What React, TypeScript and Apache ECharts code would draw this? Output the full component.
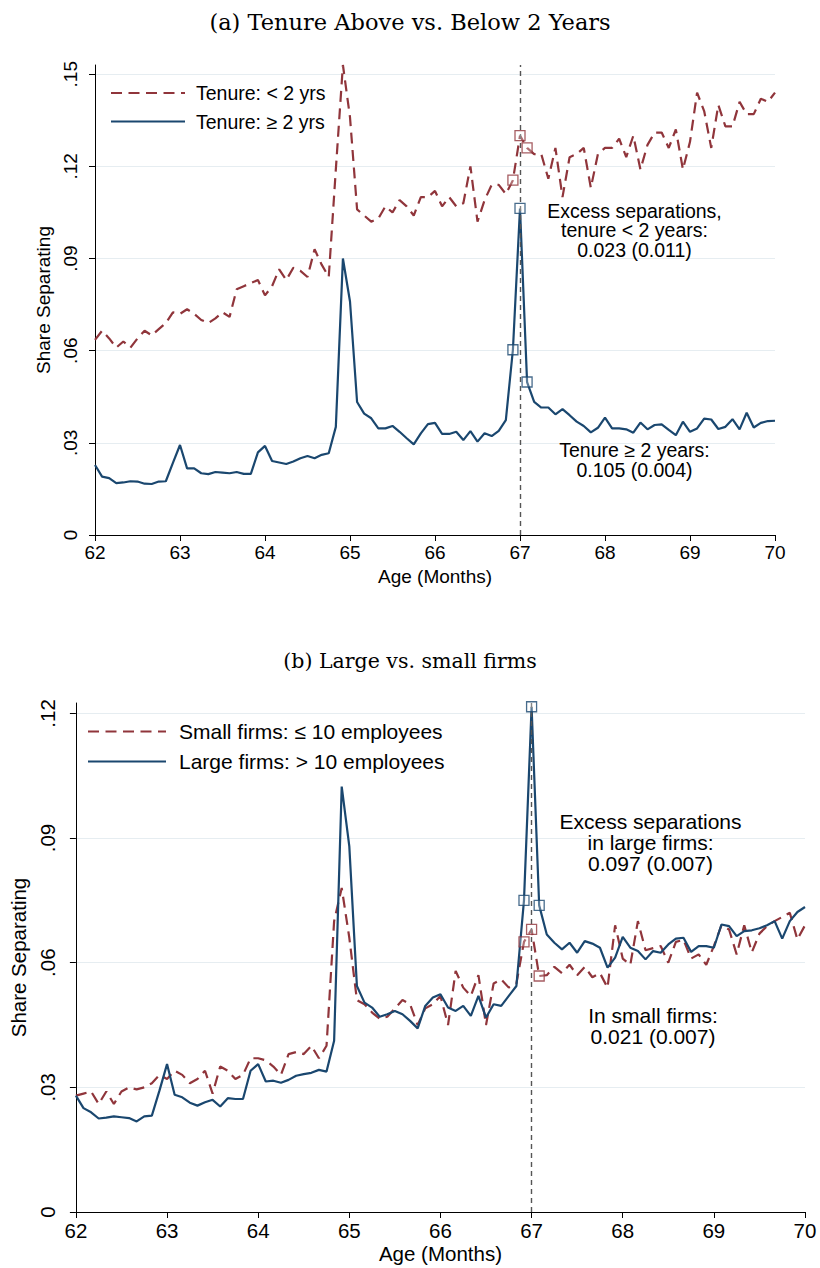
import React, { useEffect, useRef } from 'react';
import * as echarts from 'echarts';

// Age grid: 62 to 70 in monthly steps (97 points)
const monthIndex: number[] = Array.from({ length: 97 }, (_, i) => i);
const ages: number[] = monthIndex.map((i) => 62 + i / 12);

// Panel (a)
const tenureLt2: number[] = [
  0.0635, 0.0665, 0.064, 0.061, 0.063, 0.061, 0.064, 0.0665, 0.065, 0.067, 0.069, 0.0725,
  0.072, 0.0735, 0.072, 0.070, 0.069, 0.0705, 0.0725, 0.071, 0.080, 0.081, 0.082, 0.083,
  0.078, 0.081, 0.0865, 0.083, 0.087, 0.086, 0.084, 0.093, 0.088, 0.084, 0.119, 0.153,
  0.136, 0.106, 0.104, 0.102, 0.103, 0.107, 0.105, 0.109, 0.107, 0.104, 0.110, 0.110,
  0.112, 0.107, 0.110, 0.107, 0.108, 0.120, 0.102, 0.109, 0.114, 0.114, 0.111, 0.1155,
  0.130, 0.126, 0.124, 0.124, 0.116, 0.126, 0.110, 0.123, 0.124, 0.126, 0.113, 0.124,
  0.126, 0.126, 0.129, 0.123, 0.130, 0.119, 0.127, 0.131, 0.131, 0.126, 0.132, 0.119,
  0.128, 0.144, 0.138, 0.126, 0.140, 0.133, 0.133, 0.141, 0.137, 0.137, 0.142, 0.141,
  0.144,
];
const tenureGe2: number[] = [
  0.0228, 0.019, 0.0185, 0.0169, 0.0171, 0.0175, 0.0174, 0.0167, 0.0166, 0.0174, 0.0175, 0.0235,
  0.0293, 0.0217, 0.0217, 0.0201, 0.0198, 0.0205, 0.0203, 0.0201, 0.0205, 0.0199, 0.0199, 0.0269,
  0.029, 0.0241, 0.0236, 0.0231, 0.0239, 0.025, 0.0257, 0.025, 0.0261, 0.0266, 0.0352, 0.090,
  0.076, 0.0433, 0.0395, 0.038, 0.0347, 0.0347, 0.0355, 0.0336, 0.0315, 0.0295, 0.0331, 0.0361,
  0.0365, 0.0329, 0.0329, 0.0336, 0.0309, 0.0338, 0.0304, 0.0331, 0.0322, 0.0339, 0.0374, 0.0603,
  0.1063, 0.0498, 0.0433, 0.0415, 0.0415, 0.0393, 0.041, 0.039, 0.0369, 0.0355, 0.0334, 0.0349,
  0.0382, 0.0347, 0.0347, 0.0344, 0.0333, 0.0366, 0.0344, 0.0358, 0.036, 0.0342, 0.0325, 0.0369,
  0.0336, 0.0347, 0.0379, 0.0376, 0.0345, 0.0352, 0.0377, 0.0344, 0.0398, 0.035, 0.0365, 0.0371,
  0.0372,
];

// Panel (b)
const smallFirms: number[] = [
  0.028, 0.0285, 0.029, 0.026, 0.029, 0.026, 0.029, 0.030, 0.0295, 0.030, 0.031, 0.033,
  0.032, 0.034, 0.033, 0.031, 0.032, 0.034, 0.0285, 0.035, 0.034, 0.032, 0.033, 0.037,
  0.037, 0.0365, 0.035, 0.033, 0.038, 0.0385, 0.038, 0.040, 0.037, 0.040, 0.070, 0.078,
  0.066, 0.051, 0.050, 0.048, 0.0465, 0.047, 0.049, 0.051, 0.050, 0.045, 0.049, 0.050,
  0.052, 0.045, 0.058, 0.054, 0.052, 0.057, 0.045, 0.055, 0.056, 0.054, 0.055, 0.065,
  0.068, 0.0568, 0.057, 0.059, 0.0575, 0.0595, 0.057, 0.059, 0.0565, 0.0575, 0.054, 0.069,
  0.061, 0.0595, 0.070, 0.063, 0.0635, 0.064, 0.060, 0.065, 0.0655, 0.061, 0.062, 0.0595,
  0.064, 0.069, 0.068, 0.062, 0.069, 0.0625, 0.067, 0.0688, 0.070, 0.071, 0.072, 0.0656,
  0.069,
];
const largeFirms: number[] = [
  0.028, 0.025, 0.024, 0.0225, 0.0227, 0.023, 0.0228, 0.0226, 0.0218, 0.023, 0.0232, 0.0292,
  0.0356, 0.0282, 0.0276, 0.0263, 0.0256, 0.0264, 0.027, 0.0254, 0.0274, 0.0272, 0.0272, 0.034,
  0.0356, 0.0314, 0.0316, 0.0311, 0.0318, 0.0328, 0.0332, 0.0335, 0.0342, 0.0338, 0.0412, 0.1024,
  0.088, 0.0544, 0.0504, 0.0492, 0.047, 0.0476, 0.0484, 0.0476, 0.046, 0.0442, 0.0496, 0.0516,
  0.0524, 0.0492, 0.0484, 0.0496, 0.0472, 0.052, 0.0468, 0.05, 0.0496, 0.052, 0.0544, 0.075,
  0.1216, 0.0738, 0.0668, 0.0648, 0.0632, 0.0648, 0.0624, 0.0652, 0.0646, 0.0636, 0.0588, 0.0612,
  0.0662, 0.0636, 0.0628, 0.0608, 0.0628, 0.0624, 0.0644, 0.0658, 0.066, 0.0626, 0.064, 0.064,
  0.0636, 0.0692, 0.0688, 0.0664, 0.0676, 0.0678, 0.0683, 0.069, 0.07, 0.0658, 0.07, 0.0722,
  0.0734,
];

const markedMonths: number[] = [59, 60, 61];
const xTicks: number[] = [62, 63, 64, 65, 66, 67, 68, 69, 70];
const yTicksA: number[] = [0, 0.03, 0.06, 0.09, 0.12, 0.15];
const yTicksB: number[] = [0, 0.03, 0.06, 0.09, 0.12];
const eventAge = 67;

const RED = '#90353b';
const BLUE = '#1a476f';
const GRID = '#e6edf1';
const SANS = 'Liberation Sans, Arial, Helvetica, sans-serif';
const SERIF = 'DejaVu Serif, serif';

const pairs = (vals: number[]) => vals.map((v, i) => [ages[i], v]);
const marks = (vals: number[]) => markedMonths.map((i) => [ages[i], vals[i]]);
const fmtY = (v: number) => (Math.abs(v) < 1e-9 ? '0' : v.toFixed(2).replace(/^0/, ''));

export default function App() {
  const ref = useRef<HTMLDivElement>(null);
  useEffect(() => {
    if (!ref.current) return;
    const chart = echarts.init(ref.current, undefined, { renderer: 'svg' });

    const xAxisCfg = (gridIndex: number, fs: number, margin: number, nameGap: number) => ({
      gridIndex,
      type: 'value',
      min: 62,
      max: 70,
      interval: 1,
      axisLine: { show: true, onZero: false, lineStyle: { color: '#000', width: 1 } },
      axisTick: { show: true, length: 6, lineStyle: { color: '#000' }, customValues: xTicks },
      axisLabel: { fontSize: fs, color: '#000', fontFamily: SANS, margin, customValues: xTicks },
      splitLine: { show: false },
      name: 'Age (Months)',
      nameLocation: 'middle',
      nameGap,
      nameTextStyle: { fontSize: fs, color: '#000', fontFamily: SANS },
    });

    const yAxisCfg = (
      gridIndex: number,
      max: number,
      ticks: number[],
      fs: number,
      margin: number,
      nameGap: number,
      nGrid: number
    ) => ({
      gridIndex,
      type: 'value',
      min: 0,
      max,
      interval: 0.03,
      axisLine: { show: true, onZero: false, lineStyle: { color: '#000', width: 1 } },
      axisTick: { show: true, length: 6, lineStyle: { color: '#000' }, customValues: ticks },
      axisLabel: {
        rotate: 90,
        fontSize: fs,
        color: '#000',
        fontFamily: SANS,
        margin,
        customValues: ticks,
        formatter: fmtY,
      },
      splitLine: {
        show: true,
        lineStyle: {
          width: 1,
          color: ['rgba(0,0,0,0)', ...Array(nGrid).fill(GRID), 'rgba(0,0,0,0)'],
        },
      },
      name: 'Share Separating',
      nameLocation: 'middle',
      nameRotate: 90,
      nameGap,
      nameTextStyle: { fontSize: fs, color: '#000', fontFamily: SANS },
    });

    const lineSeries = (
      name: string,
      vals: number[],
      color: string,
      dashed: boolean,
      axis: number
    ) => ({
      name,
      type: 'line',
      xAxisIndex: axis,
      yAxisIndex: axis,
      data: pairs(vals),
      symbol: 'none',
      showSymbol: false,
      clip: false,
      lineStyle: { color, width: 2.2, type: dashed ? [11, 6.5] : 'solid' },
      itemStyle: { color },
      z: dashed ? 3 : 4,
    });

    const markerSeries = (vals: number[], color: string, axis: number) => ({
      type: 'scatter',
      xAxisIndex: axis,
      yAxisIndex: axis,
      data: marks(vals),
      symbol: 'rect',
      symbolSize: 10,
      clip: false,
      itemStyle: { color: 'rgba(255,255,255,0.35)', borderColor: color, borderWidth: 1.3 },
      z: 6,
      silent: true,
    });

    const vline = (axis: number) => ({
      type: 'line',
      xAxisIndex: axis,
      yAxisIndex: axis,
      data: [],
      markLine: {
        silent: true,
        symbol: ['none', 'none'],
        label: { show: false },
        lineStyle: { color: '#555', width: 1.4, type: [5, 4] },
        data: [{ xAxis: eventAge }],
      },
      z: 2,
    });

    const annot = (x: number, y: number, text: string, fs: number, lh: number) => ({
      type: 'text',
      x,
      y,
      style: {
        text,
        fill: '#000',
        fontSize: fs,
        fontFamily: SANS,
        textAlign: 'center',
        textVerticalAlign: 'middle',
        lineHeight: lh,
      },
      z: 10,
    });

    const hiddenIcon = { color: 'rgba(0,0,0,0)', borderColor: 'rgba(0,0,0,0)', borderWidth: 0 };

    chart.setOption({
      animation: false,
      backgroundColor: '#fff',
      title: [
        {
          text: '(a) Tenure Above vs. Below 2 Years',
          left: 'center',
          top: 5,
          textStyle: { fontFamily: SERIF, fontSize: 22.5, fontWeight: 'normal', color: '#000' },
        },
        {
          text: '(b) Large vs. small firms',
          left: 'center',
          top: 645,
          textStyle: { fontFamily: SERIF, fontSize: 20.5, fontWeight: 'normal', color: '#000' },
        },
      ],
      grid: [
        { left: 95, right: 45, top: 65, height: 470 },
        { left: 70, right: 15, top: 703, height: 509 },
      ],
      xAxis: [xAxisCfg(0, 19, 8, 32), xAxisCfg(1, 20.5, 8, 31)],
      yAxis: [
        yAxisCfg(0, 0.153, yTicksA, 19, 15, 34, 5),
        yAxisCfg(1, 0.1225, yTicksB, 20.5, 18, 39, 4),
      ],
      legend: [
        {
          orient: 'vertical',
          left: 110,
          top: 83,
          padding: 0,
          itemWidth: 74,
          itemHeight: 14,
          itemGap: 8.5,
          itemStyle: hiddenIcon,
          textStyle: { fontSize: 19.5, fontFamily: SANS, color: '#000', padding: [0, 0, 0, 6] },
          data: ['Tenure: < 2 yrs', 'Tenure: ≥ 2 yrs'],
        },
        {
          orient: 'vertical',
          left: 87,
          top: 721,
          padding: 0,
          itemWidth: 78,
          itemHeight: 14,
          itemGap: 9,
          itemStyle: hiddenIcon,
          textStyle: { fontSize: 21, fontFamily: SANS, color: '#000', padding: [0, 0, 0, 8] },
          data: ['Small firms: ≤ 10 employees', 'Large firms: > 10 employees'],
        },
      ],
      series: [
        vline(0),
        lineSeries('Tenure: < 2 yrs', tenureLt2, RED, true, 0),
        lineSeries('Tenure: ≥ 2 yrs', tenureGe2, BLUE, false, 0),
        markerSeries(tenureLt2, RED, 0),
        markerSeries(tenureGe2, BLUE, 0),
        vline(1),
        lineSeries('Small firms: ≤ 10 employees', smallFirms, RED, true, 1),
        lineSeries('Large firms: > 10 employees', largeFirms, BLUE, false, 1),
        markerSeries(smallFirms, RED, 1),
        markerSeries(largeFirms, BLUE, 1),
      ],
      graphic: [
        annot(634.5, 230, 'Excess separations,\ntenure < 2 years:\n0.023 (0.011)', 19.5, 19.5),
        annot(634.5, 460, 'Tenure ≥ 2 years:\n0.105 (0.004)', 19.5, 19.5),
        annot(650.5, 842, 'Excess separations\nin large firms:\n0.097 (0.007)', 21, 21),
        annot(653, 1026, 'In small firms:\n0.021 (0.007)', 21, 21),
      ],
    });
    return () => chart.dispose();
  }, []);

  return (
    <div
      ref={ref}
      style={{ position: 'absolute', left: 0, top: 0, width: 820, height: 1268, background: '#fff' }}
    />
  );
}
